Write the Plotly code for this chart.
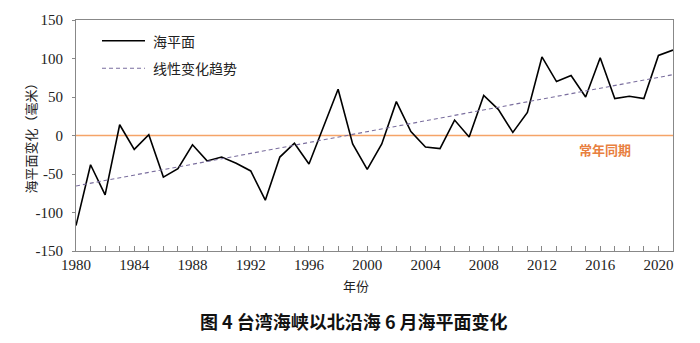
import plotly.graph_objects as go

years = list(range(1980, 2022))
sea_level = [-117, -38, -77, 14, -18, 1, -54, -43, -12, -33, -28, -36, -46, -84,
             -28, -10, -37, 12, 60, -11, -44, -11, 44, 5, -15, -17, 20, -2,
             52, 34, 4, 30, 102, 70, 78, 50, 101, 48, 51, 48, 104, 111]
trend_years = [1980, 2021]
trend_vals = [-65.5, 79]
tick_years = [1980, 1984, 1988, 1992, 1996, 2000, 2004, 2008, 2012, 2016, 2020]
y_ticks = [-150, -100, -50, 0, 50, 100, 150]
y_tick_labels = ["-150", "-100", "-50", "0", "50", "100", "150"]

CJK = "Noto Sans CJK SC"
SERIF = "Liberation Serif"

fig = go.Figure()
fig.add_trace(go.Scatter(x=years, y=sea_level, mode="lines",
                         line=dict(color="black", width=1.6), name="海平面",
                         showlegend=False))
fig.add_trace(go.Scatter(x=trend_years, y=trend_vals, mode="lines",
                         line=dict(color="#7A6E9E", width=1.1, dash="4px,3px"),
                         name="线性变化趋势", showlegend=False))

shapes = [
    dict(type="line", xref="paper", yref="y", x0=0, x1=1, y0=0, y1=0,
         line=dict(color="#F5A468", width=1.3), layer="below"),
    # legend samples
    dict(type="line", xref="paper", yref="paper",
         x0=(102 - 76) / 597, x1=(145 - 76) / 597,
         y0=(251 - 40.7) / 231, y1=(251 - 40.7) / 231,
         line=dict(color="black", width=1.6)),
    dict(type="line", xref="paper", yref="paper",
         x0=(102 - 76) / 597, x1=(145 - 76) / 597,
         y0=(251 - 68.3) / 231, y1=(251 - 68.3) / 231,
         line=dict(color="#7A6E9E", width=1.1, dash="4px,3px")),
]

annotations = [
    dict(text="海平面", xref="paper", yref="paper", x=(151 - 76) / 597,
         y=(251 - 40.7) / 231, xanchor="left", yanchor="middle", showarrow=False,
         font=dict(family=CJK, size=14, color="#222")),
    dict(text="线性变化趋势", xref="paper", yref="paper", x=(151 - 76) / 597,
         y=(251 - 68.3) / 231, xanchor="left", yanchor="middle", showarrow=False,
         font=dict(family=CJK, size=14, color="#222")),
    dict(text="<b>常年同期</b>", xref="paper", yref="paper", x=(605 - 76) / 597,
         y=(251 - 149) / 231, xanchor="center", yanchor="middle", showarrow=False,
         font=dict(family=CJK, size=13, color="#E8803F")),
    dict(text="海平面变化（毫米）", xref="paper", yref="paper", x=(30 - 76) / 597,
         y=0.5, xanchor="center", yanchor="middle", showarrow=False, textangle=-90,
         font=dict(family=CJK, size=13, color="#222")),
    dict(text="年份", xref="paper", yref="paper", x=(356 - 76) / 597,
         y=(251 - 285) / 231, xanchor="center", yanchor="middle", showarrow=False,
         font=dict(family=CJK, size=13, color="#222")),
    dict(text="<b>图 4 台湾海峡以北沿海 6 月海平面变化</b>", xref="paper", yref="paper",
         x=(354 - 76) / 597, y=(251 - 321) / 231, xanchor="center", yanchor="middle",
         showarrow=False, font=dict(family=CJK, size=18, color="#111")),
]

fig.update_layout(
    width=700, height=343,
    margin=dict(l=76, r=27, t=20, b=92),
    paper_bgcolor="white", plot_bgcolor="white",
    shapes=shapes, annotations=annotations,
    xaxis=dict(range=[1980, 2021], tickmode="array", tickvals=tick_years,
               ticktext=[str(y) for y in tick_years],
               ticks="inside", ticklen=5, tickcolor="#888",
               minor=dict(dtick=1, ticks="inside", ticklen=5, tickcolor="#888"),
               showline=True, linecolor="#888", linewidth=1, mirror=True,
               showgrid=False, zeroline=False,
               tickfont=dict(family=SERIF, size=15, color="#222")),
    yaxis=dict(range=[-150, 150], tickmode="array", tickvals=y_ticks,
               ticktext=y_tick_labels, ticklabelstandoff=6,
               ticks="outside", ticklen=3, tickcolor="#888",
               showline=True, linecolor="#888", linewidth=1, mirror=True,
               showgrid=False, zeroline=False,
               tickfont=dict(family=SERIF, size=15, color="#222")),
)

fig.write_html("out.html")
